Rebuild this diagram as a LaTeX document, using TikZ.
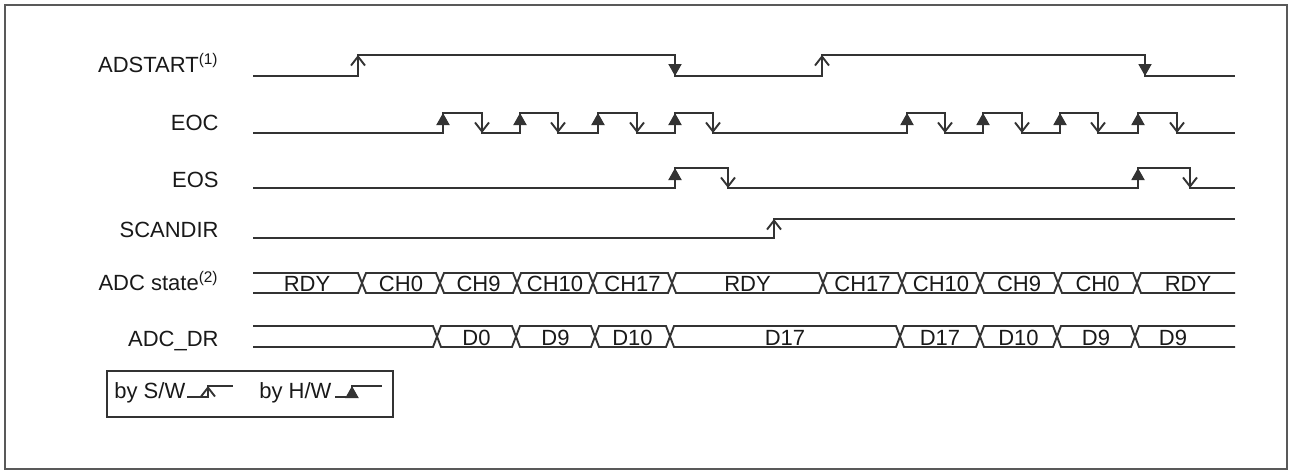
\documentclass[tikz,border=0pt]{standalone}
\usepackage{fontspec}
\setmainfont{Liberation Sans}
\usetikzlibrary{arrows.meta}

\begin{document}
\begin{tikzpicture}[
    x=0.5pt, y=-0.5pt,
    sig/.style={draw=black!80, line width=0.95pt},
    swedge/.style={sig, -{Straight Barb[length=4.5pt, width=7pt]}},
    hwedge/.style={sig, -{Triangle[length=6pt, width=6.5pt]}},
    lbl/.style={anchor=base east, inner sep=0pt, text=black!90, font=\fontsize{11}{13}\selectfont},
    val/.style={anchor=base, inner sep=0pt, text=black!90, font=\fontsize{11}{13}\selectfont}
]
\useasboundingbox (0,0) rectangle (1291,471);
\draw[black!65, line width=0.8pt] (5,5) rectangle (1287,469);

% signal names
\node [lbl] (adstart) at (219,72) {ADSTART\textsuperscript{(1)}};
\node [lbl] (eoc) at (219,130) {EOC};
\node [lbl] (eos) at (219,187) {EOS};
\node [lbl] (scandir) at (219,237) {SCANDIR};
\node [lbl] (adcstate) at (219,290) {ADC state\textsuperscript{(2)}};
\node [lbl] (adcdr) at (219,346) {ADC\_DR};

% ADSTART
\draw [sig] (253,76) -| (358,55) -| (675,76) -| (822,55) -| (1145,76) -- (1235,76);
\draw [swedge] (358,76) -- (358,55);
\draw [hwedge] (675,55) -- (675,76);
\draw [swedge] (822,76) -- (822,55);
\draw [hwedge] (1145,55) -- (1145,76);

% EOC
\draw [sig] (253,133) -| (443,113) -| (482,133) -| (520,113) -| (558,133) -| (598,113)
    -| (637,133) -| (675,113) -| (713,133) -| (907,113) -| (945,133) -| (983,113)
    -| (1022,133) -| (1060,113) -| (1098,133) -| (1138,113) -| (1177,133) -- (1235,133);
\foreach \r/\f in {443/482, 520/558, 598/637, 675/713, 907/945, 983/1022, 1060/1098, 1138/1177} {
    \draw [hwedge] (\r,133) -- (\r,113);
    \draw [swedge] (\f,113) -- (\f,133);
}

% EOS
\draw [sig] (253,188) -| (675,168) -| (728,188) -| (1138,168) -| (1190,188) -- (1235,188);
\draw [hwedge] (675,188) -- (675,168);
\draw [swedge] (728,168) -- (728,188);
\draw [hwedge] (1138,188) -- (1138,168);
\draw [swedge] (1190,168) -- (1190,188);

% SCANDIR
\draw [sig] (253,238) -| (774,219) -- (1235,219);
\draw [swedge] (774,238) -- (774,219);

% ADC state
\draw [sig] (253,273) -- (358,273) -- (362,283) -- (358,293) -- (253,293);
\node [val] (st0) at (307,291) {RDY};
\foreach \a/\b/\t in {362/440/CH0, 440/517/CH9, 517/593/CH10, 593/672/CH17, 672/823/RDY,
    823/902/CH17, 902/980/CH10, 980/1058/CH9, 1058/1137/CH0} {
    \draw [sig] (\a,283) -- (\a+4,273) -- (\b-4,273) -- (\b,283) -- (\b-4,293) -- (\a+4,293) -- cycle;
    \node [val] (st\a) at ({(\a+\b)/2},291) {\t};
}
\draw [sig] (1235,273) -- (1141,273) -- (1137,283) -- (1141,293) -- (1235,293);
\node [val] (st1137) at (1188,291) {RDY};

% ADC_DR
\draw [sig] (253,326) -- (433,326) -- (437,336.5) -- (433,347) -- (253,347);
\foreach \a/\b/\t in {437/516/D0, 516/595/D9, 595/670/D10, 670/900/D17,
    900/980/D17, 980/1057/D10, 1057/1135/D9} {
    \draw [sig] (\a,336.5) -- (\a+4,326) -- (\b-4,326) -- (\b,336.5) -- (\b-4,347) -- (\a+4,347) -- cycle;
    \node [val] (dr\a) at ({(\a+\b)/2},345) {\t};
}
\draw [sig] (1235,326) -- (1139,326) -- (1135,336.5) -- (1139,347) -- (1235,347);
\node [val] (dr1135) at (1173,345) {D9};

% legend
\draw [sig] (107,371) rectangle (393,417);
\node [lbl, anchor=base west] (bysw) at (114,398) {by S/W};
\draw [sig] (187,397) -| (208,386) -- (233,386);
\draw [swedge] (208,397) -- (208,386);
\node [lbl, anchor=base west] (byhw) at (259,398) {by H/W};
\draw [sig] (335,397) -| (352,386) -- (382,386);
\draw [hwedge] (352,397) -- (352,386);
\end{tikzpicture}
\end{document}
